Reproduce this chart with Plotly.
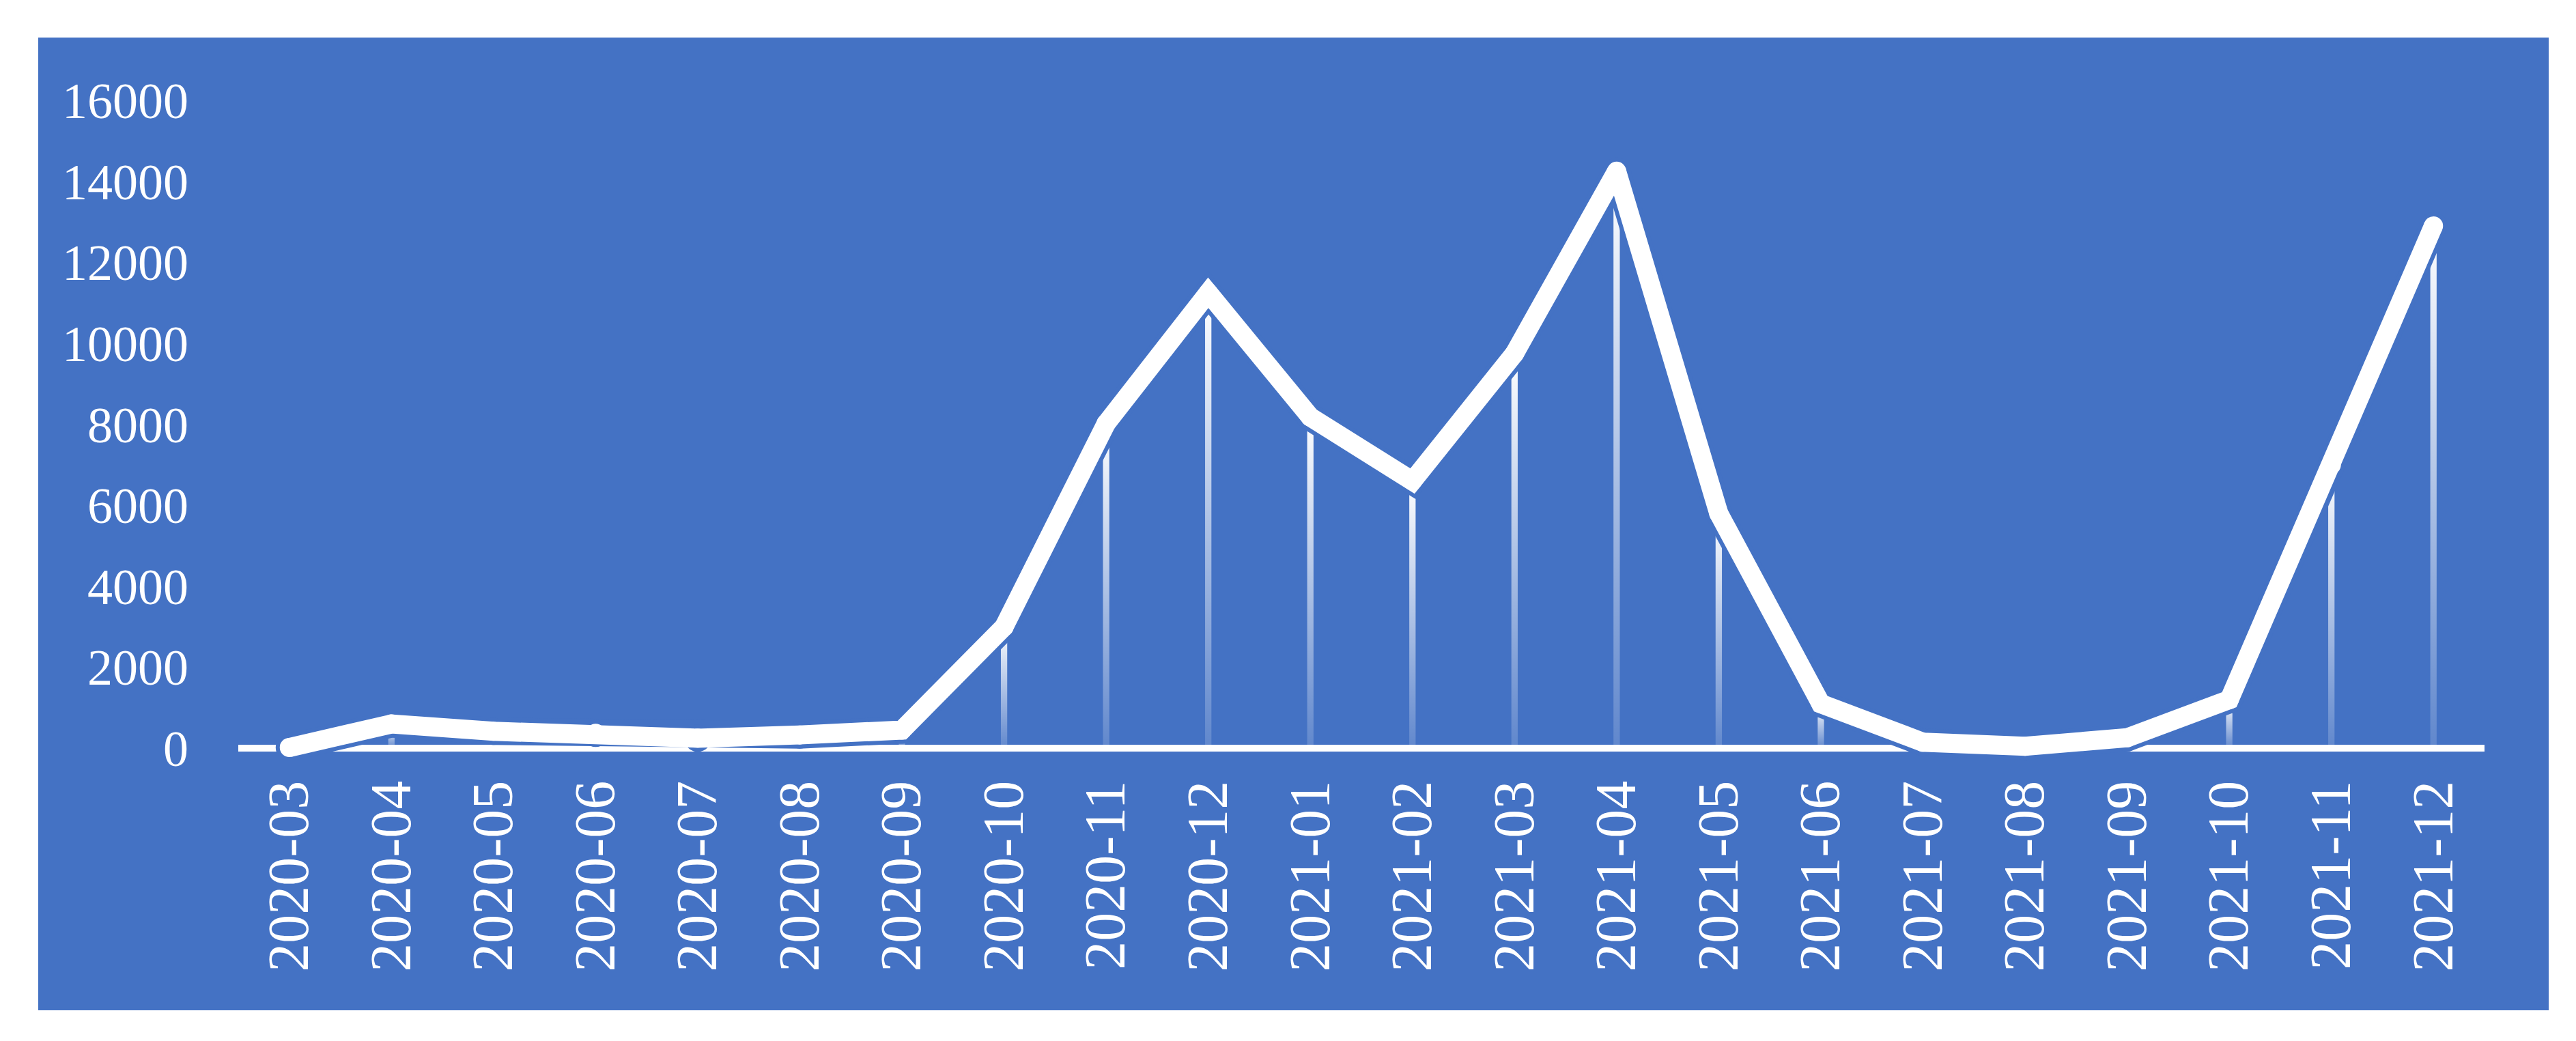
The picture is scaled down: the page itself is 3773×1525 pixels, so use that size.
import plotly.graph_objects as go

months = ['2020-03', '2020-04', '2020-05', '2020-06', '2020-07', '2020-08', '2020-09',
          '2020-10', '2020-11', '2020-12', '2021-01', '2021-02', '2021-03', '2021-04',
          '2021-05', '2021-06', '2021-07', '2021-08', '2021-09', '2021-10', '2021-11',
          '2021-12']
values = [20, 600, 420, 370, 250, 330, 450,
          3000, 8020, 11250, 8180, 6600, 9750, 14250,
          5800, 1100, 150, 50, 260, 1200, 7000,
          12900]
y_ticks = [0, 2000, 4000, 6000, 8000, 10000, 12000, 14000, 16000]
y_labels = ['0', '2000', '4000', '6000', '8000', '10000', '12000', '14000', '16000']

BLUE = '#4472C4'
W, H = 3773, 1525
ml, mr, mt, mb = 341, 142, 139, 419

xs = list(range(len(months)))
fig = go.Figure()

# thin drop lines, fading towards the axis
hw = 0.031
for x, v in zip(xs, values):
    fig.add_trace(go.Scatter(
        x=[x - hw, x + hw, x + hw, x - hw, x - hw], y=[0, 0, v, v, 0],
        mode='lines', line=dict(width=0), fill='toself',
        fillgradient=dict(type='vertical',
                          colorscale=[[0, 'rgba(255,255,255,0.15)'], [1, 'rgba(255,255,255,1)']]),
        hoverinfo='skip', showlegend=False))

# blue halo under the main line
fig.add_trace(go.Scatter(x=xs, y=values, mode='lines+markers',
                         line=dict(color=BLUE, width=40),
                         marker=dict(color=BLUE, size=40),
                         hoverinfo='skip', showlegend=False))
fig.add_trace(go.Scatter(x=xs, y=values, mode='lines+markers',
                         line=dict(color='white', width=28),
                         marker=dict(color='white', size=28),
                         showlegend=False))

pw = W - ml - mr
ph = H - mt - mb
fig.add_shape(type='rect', xref='paper', yref='paper', layer='below',
              x0=(48 - ml) / pw, x1=(3725 - ml) / pw,
              y0=(H - mb - 1472) / ph, y1=(H - mb - 47) / ph,
              fillcolor=BLUE, line=dict(width=0))

fig.update_layout(
    width=W, height=H,
    margin=dict(l=ml, r=mr, t=mt, b=mb),
    paper_bgcolor='white', plot_bgcolor=BLUE,
    font=dict(family='Liberation Serif', color='white'),
    xaxis=dict(range=[-0.5, 21.5], tickvals=xs, ticktext=months, tickangle=-90,
               showgrid=False, zeroline=False, showline=False, ticks='',
               tickfont=dict(size=84, color='white'), ticklabelstandoff=12),
    yaxis=dict(range=[-300, 16000], tickvals=y_ticks, ticktext=y_labels, showgrid=False,
               zeroline=True, zerolinecolor='white', zerolinewidth=10,
               showline=False, ticks='', tickfont=dict(size=74, color='white'),
               ticklabelstandoff=72),
)

fig.write_html('out.html')
